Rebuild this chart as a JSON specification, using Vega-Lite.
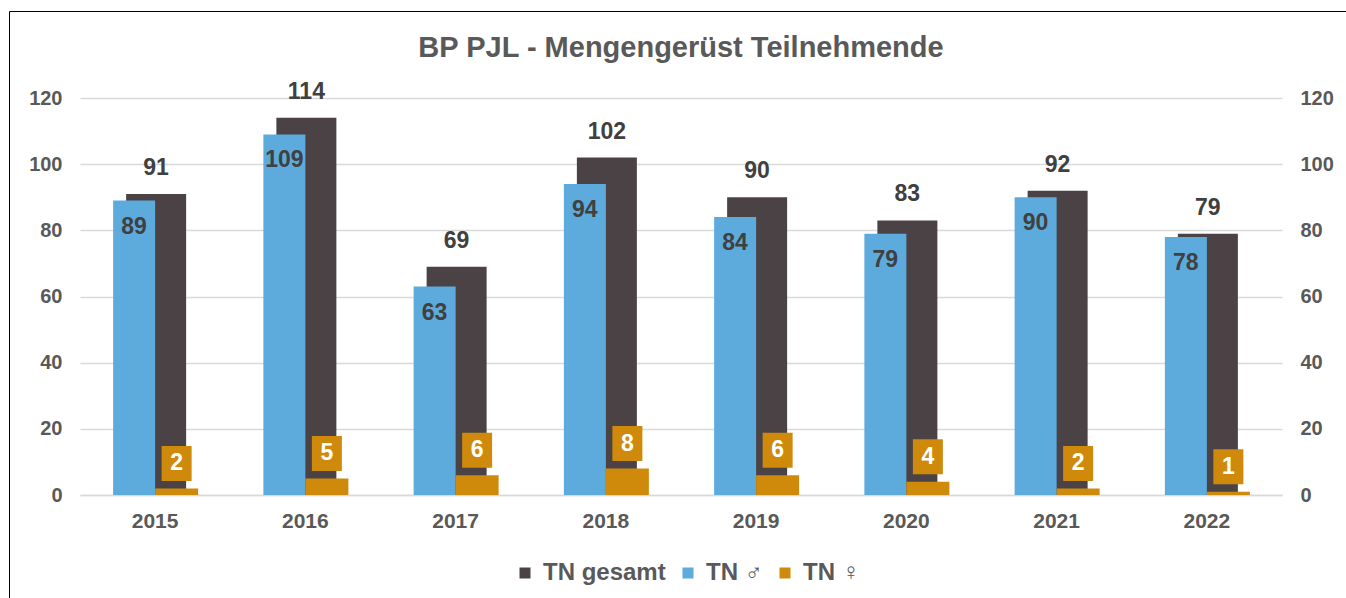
{
  "$schema": "https://vega.github.io/schema/vega-lite/v6.json",
  "width": 1202,
  "height": 397,
  "autosize": "none",
  "padding": {"left": 80, "top": 98, "right": 64, "bottom": 103},
  "background": "white",
  "config": {
    "font": "Liberation Sans",
    "view": {"stroke": null}
  },
  "title": {
    "text": "BP PJL - Mengengerüst Teilnehmende",
    "fontSize": 29,
    "fontWeight": "bold",
    "color": "#595959",
    "anchor": "middle",
    "offset": -52
  },
  "data": {
    "values": [
      {"jahr": "2015", "gesamt": 91, "m": 89, "w": 2},
      {"jahr": "2016", "gesamt": 114, "m": 109, "w": 5},
      {"jahr": "2017", "gesamt": 69, "m": 63, "w": 6},
      {"jahr": "2018", "gesamt": 102, "m": 94, "w": 8},
      {"jahr": "2019", "gesamt": 90, "m": 84, "w": 6},
      {"jahr": "2020", "gesamt": 83, "m": 79, "w": 4},
      {"jahr": "2021", "gesamt": 92, "m": 90, "w": 2},
      {"jahr": "2022", "gesamt": 79, "m": 78, "w": 1}
    ]
  },
  "encoding": {
    "x": {
      "field": "jahr",
      "type": "ordinal",
      "scale": {"paddingInner": 0, "paddingOuter": 0},
      "axis": {
        "title": null,
        "labelAngle": 0,
        "labelFontSize": 21,
        "labelFontWeight": "bold",
        "labelColor": "#595959",
        "labelPadding": 15,
        "ticks": false,
        "domainColor": "#d9d9d9",
        "domainWidth": 1.5
      }
    }
  },
  "layer": [
    {
      "mark": {"type": "bar", "width": 60, "xOffset": 1},
      "encoding": {
        "y": {
          "field": "gesamt",
          "type": "quantitative",
          "scale": {"domain": [0, 120], "nice": false},
          "axis": {
            "title": null,
            "orient": "left",
            "values": [0, 20, 40, 60, 80, 100, 120],
            "labelFontSize": 20,
            "labelFontWeight": "bold",
            "labelColor": "#595959",
            "labelPadding": 18,
            "ticks": false,
            "domain": false,
            "grid": true,
            "gridColor": "#d9d9d9",
            "gridWidth": 1.5
          }
        },
        "color": {
          "datum": "TN gesamt",
          "scale": {
            "domain": ["TN gesamt", "TN ♂", "TN ♀"],
            "range": ["#4B4246", "#5DABDD", "#CF8A0B"]
          },
          "legend": {
            "title": null,
            "orient": "none",
            "direction": "horizontal",
            "legendX": 433,
            "legendY": 463,
            "symbolType": "square",
            "symbolSize": 121,
            "symbolStrokeWidth": 0,
            "labelFontSize": 24,
            "labelFontWeight": "bold",
            "labelColor": "#595959",
            "labelOffset": 6,
            "columnPadding": 10,
            "padding": 0
          }
        }
      }
    },
    {
      "mark": {"type": "bar", "width": 42, "xOffset": -21},
      "encoding": {
        "y": {
          "field": "m",
          "type": "quantitative",
          "scale": {"domain": [0, 120], "nice": false},
          "axis": {
            "title": null,
            "orient": "right",
            "values": [0, 20, 40, 60, 80, 100, 120],
            "labelFontSize": 20,
            "labelFontWeight": "bold",
            "labelColor": "#595959",
            "labelPadding": 18,
            "ticks": false,
            "domain": false,
            "grid": false
          }
        },
        "color": {"datum": "TN ♂"}
      }
    },
    {
      "mark": {"type": "bar", "width": 43, "xOffset": 21.5},
      "encoding": {
        "y": {"field": "w", "type": "quantitative", "scale": {"domain": [0, 120], "nice": false}, "axis": null},
        "color": {"datum": "TN ♀"}
      }
    },
    {
      "mark": {"type": "text", "xOffset": 1, "yOffset": -26, "baseline": "middle", "fontSize": 23, "fontWeight": "bold", "color": "#404040"},
      "encoding": {
        "y": {"field": "gesamt", "type": "quantitative", "scale": {"domain": [0, 120], "nice": false}, "axis": null},
        "text": {"field": "gesamt"}
      }
    },
    {
      "mark": {"type": "text", "xOffset": -21, "yOffset": 26, "baseline": "middle", "fontSize": 23, "fontWeight": "bold", "color": "#404040"},
      "encoding": {
        "y": {"field": "m", "type": "quantitative", "scale": {"domain": [0, 120], "nice": false}, "axis": null},
        "text": {"field": "m"}
      }
    },
    {
      "mark": {"type": "point", "shape": "M-0.857,-1H0.857V1H-0.857Z", "size": 1225, "filled": true, "opacity": 1, "color": "#CF8A0B", "xOffset": 21.5, "yOffset": -25},
      "encoding": {
        "y": {"field": "w", "type": "quantitative", "scale": {"domain": [0, 120], "nice": false}, "axis": null}
      }
    },
    {
      "mark": {"type": "text", "xOffset": 21.5, "yOffset": -25, "baseline": "middle", "fontSize": 23, "fontWeight": "bold", "color": "white"},
      "encoding": {
        "y": {"field": "w", "type": "quantitative", "scale": {"domain": [0, 120], "nice": false}, "axis": null},
        "text": {"field": "w"}
      }
    },
    {
      "mark": {"type": "text", "opacity": 0},
      "encoding": {
        "y": {"field": "w", "type": "quantitative", "scale": {"domain": [0, 120], "nice": false}, "axis": null},
        "text": {"value": ""},
        "fill": {
          "field": "gesamt",
          "type": "quantitative",
          "legend": {
            "type": "gradient",
            "title": null,
            "orient": "none",
            "direction": "vertical",
            "legendX": -71,
            "legendY": -87,
            "gradientLength": 700,
            "gradientThickness": 2000,
            "gradientOpacity": 0,
            "gradientStrokeWidth": 0,
            "labelOpacity": 0,
            "labelExpr": "''",
            "strokeColor": "#000000",
            "padding": 0
          }
        }
      }
    }
  ],
  "resolve": {"scale": {"y": "independent"}}
}
